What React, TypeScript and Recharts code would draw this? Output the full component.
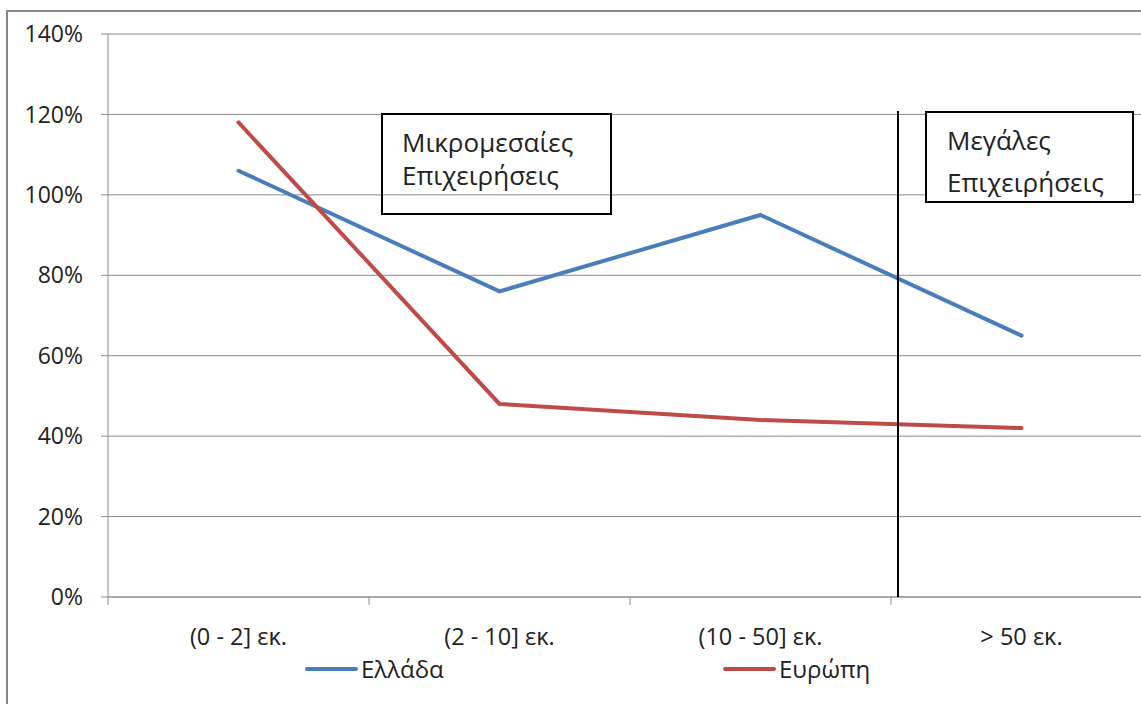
import React from 'react';
import { LineChart, Line, XAxis, YAxis, CartesianGrid } from 'recharts';

const categories = ['(0 - 2] εκ.', '(2 - 10] εκ.', '(10 - 50] εκ.', '> 50 εκ.'];
const greece = [106, 76, 95, 65];
const europe = [118, 48, 44, 42];
const yTicks = [0, 20, 40, 60, 80, 100, 120, 140];
const seriesNames = ['Ελλάδα', 'Ευρώπη'];
const seriesColors = ['#4A7EBB', '#BE4B48'];
const noteSmall = ['Μικρομεσαίες', 'Επιχειρήσεις'];
const noteLarge = ['Μεγάλες', 'Επιχειρήσεις'];

const data = categories.map((c, i) => ({ x: i + 0.5, name: c, greece: greece[i], europe: europe[i] }));
const xTicks: number[] = [];
for (let i = 0; i <= categories.length * 2; i++) xTicks.push(i / 2);

const FONT = '"Open Sans", sans-serif';

const XTick = (props: any) => {
  const { x, y, payload } = props;
  const v = payload.value as number;
  if (Number.isInteger(v)) {
    return <line x1={x} x2={x} y1={y} y2={y + 8} stroke="#8c8c8c" strokeWidth={1} />;
  }
  return (
    <text x={x} y={y + 40} dy="0.35em" textAnchor="middle" fontSize={23.5} fill="#222" fontFamily={FONT}>
      {categories[Math.floor(v)]}
    </text>
  );
};

export default function App() {
  return (
    <div style={{ position: 'fixed', left: 0, top: 0, width: 1141, height: 704, overflow: 'hidden', background: '#fff', fontFamily: FONT }}>
      <div style={{ position: 'absolute', left: 6, top: 10, width: 1170, height: 740, border: '2px solid #868686' }} />
      <div style={{ position: 'absolute', left: 0, top: 0 }}>
        <LineChart width={1160} height={704} data={data} margin={{ top: 34, right: 8, bottom: 47, left: 0 }}>
          <CartesianGrid vertical={false} stroke="#8c8c8c" strokeWidth={1} />
          <XAxis
            dataKey="x"
            type="number"
            domain={[0, categories.length]}
            ticks={xTicks}
            interval={0}
            height={60}
            tickLine={false}
            tickSize={0}
            tickMargin={0}
            stroke="#8c8c8c"
            tick={<XTick />}
          />
          <YAxis
            type="number"
            domain={[0, 140]}
            ticks={yTicks}
            interval={0}
            width={108}
            tickSize={7}
            tickMargin={18}
            stroke="#8c8c8c"
            tickFormatter={(v: number) => `${v}%`}
            tick={{ fontSize: 23, fill: '#222', fontFamily: FONT }}
          />
          <Line type="linear" dataKey="greece" name={seriesNames[0]} stroke={seriesColors[0]} strokeWidth={4} dot={false} isAnimationActive={false} strokeLinecap="round" />
          <Line type="linear" dataKey="europe" name={seriesNames[1]} stroke={seriesColors[1]} strokeWidth={4} dot={false} isAnimationActive={false} strokeLinecap="round" />
        </LineChart>
      </div>

      {/* vertical separator */}
      <div style={{ position: 'absolute', left: 897, top: 111, width: 2, height: 486, background: '#000' }} />

      {/* annotation boxes */}
      <div style={{ position: 'absolute', left: 381, top: 113, width: 231, height: 102, boxSizing: 'border-box', border: '2px solid #000' }}>
        <div style={{ position: 'absolute', left: 19, top: 11, fontSize: 26, lineHeight: '33px', color: '#222', whiteSpace: 'nowrap' }}>
          {noteSmall.map((t) => <div key={t}>{t}</div>)}
        </div>
      </div>
      <div style={{ position: 'absolute', left: 925, top: 111, width: 209, height: 92, boxSizing: 'border-box', border: '2px solid #000', background: '#fff' }}>
        <div style={{ position: 'absolute', left: 0, top: 0, width: 205, height: 84, overflow: 'hidden' }}>
          <div style={{ position: 'absolute', left: 20, top: 6, fontSize: 26, lineHeight: '42px', color: '#222', whiteSpace: 'nowrap' }}>
            {noteLarge.map((t) => <div key={t}>{t}</div>)}
          </div>
        </div>
      </div>

      {/* legend */}
      {[{ lx: 305, tx: 361 }, { lx: 723, tx: 779 }].map((p, i) => (
        <React.Fragment key={seriesNames[i]}>
          <div style={{ position: 'absolute', left: p.lx, top: 667, width: 53, height: 4, borderRadius: 2, background: seriesColors[i] }} />
          <div style={{ position: 'absolute', left: p.tx, top: 654, fontSize: 24, lineHeight: '30px', color: '#222', whiteSpace: 'nowrap' }}>
            {seriesNames[i]}
          </div>
        </React.Fragment>
      ))}
    </div>
  );
}
